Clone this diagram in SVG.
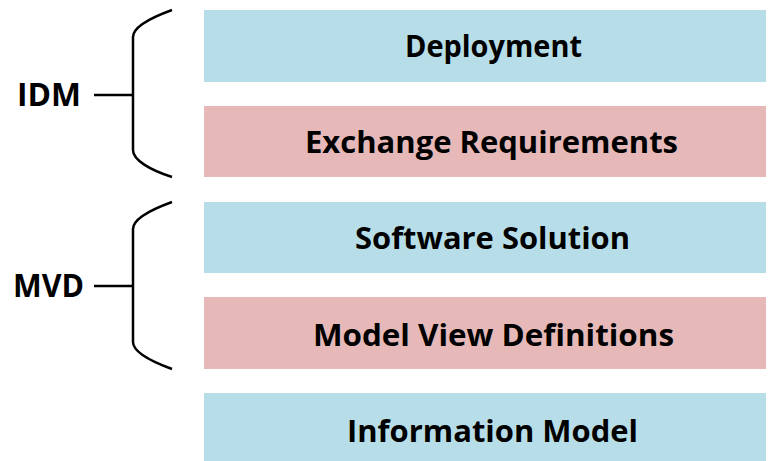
<svg xmlns="http://www.w3.org/2000/svg" width="769" height="461" viewBox="0 0 769 461">
<style>
.blue{fill:#B7DEE8}
.pink{fill:#E6B9B8}
.t{font-family:"Open Sans","Liberation Sans",sans-serif;font-weight:700;font-size:30px;fill:#000}
.lbl{font-family:"Open Sans","Liberation Sans",sans-serif;font-weight:700;font-size:32px;fill:#000}
.br{fill:none;stroke:#000;stroke-width:2.5}
</style>
<rect width="769" height="461" fill="#fff"/>
<g id="deployment"><rect class="blue" x="204" y="10" width="562" height="72"/><text class="t" x="405" y="57" textLength="177" lengthAdjust="spacingAndGlyphs">Deployment</text></g>
<g id="exchange-requirements"><rect class="pink" x="204" y="106" width="562" height="71"/><text class="t" x="305" y="153" textLength="373" lengthAdjust="spacingAndGlyphs">Exchange Requirements</text></g>
<g id="software-solution"><rect class="blue" x="204" y="202" width="562" height="71"/><text class="t" x="355" y="249" textLength="275" lengthAdjust="spacingAndGlyphs">Software Solution</text></g>
<g id="model-view-definitions"><rect class="pink" x="204" y="297" width="562" height="72"/><text class="t" x="313" y="346" textLength="361" lengthAdjust="spacingAndGlyphs">Model View Definitions</text></g>
<g id="information-model"><rect class="blue" x="204" y="393" width="562" height="72"/><text class="t" x="347" y="442" textLength="291" lengthAdjust="spacingAndGlyphs">Information Model</text></g>
<g id="idm"><text class="lbl" x="17" y="106" textLength="64" lengthAdjust="spacingAndGlyphs">IDM</text></g>
<g id="mvd"><text class="lbl" x="13" y="297" textLength="71" lengthAdjust="spacingAndGlyphs">MVD</text></g>
<g id="connectors">
<path class="br" d="M172,10 C150,18 133,27 133,37 L133,150 C133,160 150,170 172,177"/>
<path class="br" d="M94,95 L133,95"/>
<path class="br" d="M172,202 C150,210 133,219 133,229 L133,342 C133,352 150,361 172,369"/>
<path class="br" d="M94,286 L133,286"/>
</g>
</svg>
